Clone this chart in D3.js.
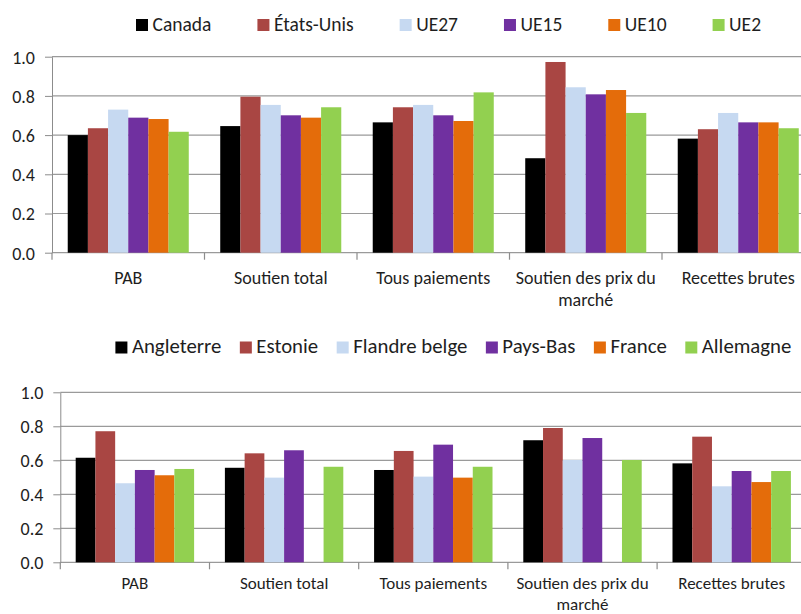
<!DOCTYPE html>
<html>
<head>
<meta charset="utf-8">
<script src="https://cdn.jsdelivr.net/npm/d3@7"></script>
<style>
  body { margin: 0; background: #fff; }
  text { font-family: Carlito, Calibri, "Liberation Sans", sans-serif; fill: #1e1e1e; }
</style>
</head>
<body>
<script>
// Screen dimensions.
const WIDTH = 801;
const HEIGHT = 614;
const FONT = 18;

// Categories and colours shared by both panels.
const categories = ["PAB", "Soutien total", "Tous paiements", "Soutien des prix du marché", "Recettes brutes"];
const colors = ["#000000", "#A94643", "#C6D9F1", "#7030A0", "#E46C0A", "#92D050"];
const yTicks = [0, 0.2, 0.4, 0.6, 0.8, 1.0];

// Top panel: countries / regions.
const seriesTop = ["Canada", "États-Unis", "UE27", "UE15", "UE10", "UE2"];
const canada    = [0.600, 0.646, 0.665, 0.482, 0.582];
const etatsUnis = [0.635, 0.796, 0.742, 0.973, 0.630];
const ue27      = [0.730, 0.754, 0.754, 0.844, 0.713];
const ue15      = [0.689, 0.701, 0.701, 0.808, 0.665];
const ue10      = [0.682, 0.689, 0.672, 0.830, 0.665];
const ue2       = [0.617, 0.742, 0.818, 0.713, 0.635];

// Bottom panel: regions.
const seriesBottom = ["Angleterre", "Estonie", "Flandre belge", "Pays-Bas", "France", "Allemagne"];
const angleterre = [0.615, 0.556, 0.543, 0.718, 0.582];
const estonie    = [0.771, 0.641, 0.655, 0.790, 0.739];
const flandre    = [0.465, 0.498, 0.504, 0.602, 0.447];
const paysBas    = [0.543, 0.659, 0.692, 0.731, 0.537];
const france     = [0.512, null, 0.498, null, 0.472];
const allemagne  = [0.549, 0.562, 0.562, 0.602, 0.537];

const svg = d3.select("body").append("svg").attr("width", WIDTH).attr("height", HEIGHT);

// Draws one panel: legend, grid, y axis, bars and category labels.
function drawPanel(p) {
    const g = svg.append("g");
    const groupW = p.groupW;

    const x = d3.scaleBand().domain(categories)
        .range([p.left, p.left + groupW * categories.length]);
    const xInner = d3.scaleBand().domain(d3.range(p.series.length))
        .range([0, groupW]).paddingInner(0).paddingOuter(0.78);
    const y = d3.scaleLinear().domain([0, 1]).range([p.bottom, p.top]);

    // Legend
    let lx = p.legendX;
    p.series.forEach((name, i) => {
        const item = g.append("g");
        item.append("rect")
            .attr("x", lx).attr("y", p.legendY - 11.5)
            .attr("width", 12).attr("height", 12)
            .style("fill", colors[i]);
        const t = item.append("text")
            .attr("x", lx + 16.5).attr("y", p.legendY)
            .style("font-size", p.legendFont + "px")
            .text(name);
        lx += 16.5 + t.node().getComputedTextLength() + p.legendGap;
    });

    // Gridlines
    g.append("g").selectAll("line").data(yTicks).enter().append("line")
        .attr("x1", p.left).attr("x2", WIDTH)
        .attr("y1", d => y(d)).attr("y2", d => y(d))
        .style("stroke", "#9a9a9a").style("stroke-width", 1.2);

    // Y axis
    const yAxis = g.append("g").attr("transform", "translate(" + p.left + ",0)")
        .call(d3.axisLeft(y).tickValues(yTicks).tickFormat(d3.format(".1f"))
            .tickSize(7).tickSizeOuter(0).tickPadding(10));
    yAxis.selectAll("line, path").style("stroke", "#8c8c8c");
    yAxis.selectAll("text").style("font-size", FONT + "px").style("fill", "#1e1e1e")
        .attr("dy", "0.36em");

    // Bars
    p.series.forEach((name, s) => {
        g.append("g").selectAll("rect")
            .data(categories.map((c, i) => ({ c: c, v: p.values[s][i] })).filter(d => d.v != null))
            .enter().append("rect")
            .attr("x", d => x(d.c) + xInner(s))
            .attr("width", xInner.bandwidth())
            .attr("y", d => y(d.v))
            .attr("height", d => y(0) - y(d.v))
            .style("fill", colors[s]);
    });

    // Category boundary ticks
    const bounds = categories.map(c => x(c)).concat([x.range()[1]]);
    g.append("g").selectAll("line").data(bounds).enter().append("line")
        .attr("x1", d => d).attr("x2", d => d)
        .attr("y1", y(0)).attr("y2", y(0) + 7)
        .style("stroke", "#8c8c8c").style("stroke-width", 1.2);

    // Category labels, wrapped to the group width
    categories.forEach(c => {
        const t = g.append("text")
            .attr("x", x(c) + groupW / 2).attr("y", y(0) + p.labelDy)
            .attr("text-anchor", "middle")
            .style("font-size", p.labelFont + "px");
        const words = c.split(" ");
        let line = [];
        let tspan = t.append("tspan").attr("x", x(c) + groupW / 2);
        words.forEach(w => {
            line.push(w);
            tspan.text(line.join(" "));
            if (tspan.node().getComputedTextLength() > groupW - 4 && line.length > 1) {
                line.pop();
                tspan.text(line.join(" "));
                line = [w];
                tspan = t.append("tspan").attr("x", x(c) + groupW / 2)
                    .attr("dy", p.lineH).text(w);
            }
        });
    });
}

drawPanel({
    series: seriesTop,
    values: [canada, etatsUnis, ue27, ue15, ue10, ue2],
    left: 52, groupW: 152.5, top: 56.7, bottom: 252.7,
    legendX: 136, legendY: 30.5, legendGap: 46, legendFont: 19.5,
    labelDy: 31, lineH: 22, labelFont: FONT
});

drawPanel({
    series: seriesBottom,
    values: [angleterre, estonie, flandre, paysBas, france, allemagne],
    left: 60.3, groupW: 149.2, top: 392.3, bottom: 562.3,
    legendX: 115.4, legendY: 353, legendGap: 18.5, legendFont: 20.8,
    labelDy: 27, lineH: 20.5, labelFont: 17
});
</script>
</body>
</html>
